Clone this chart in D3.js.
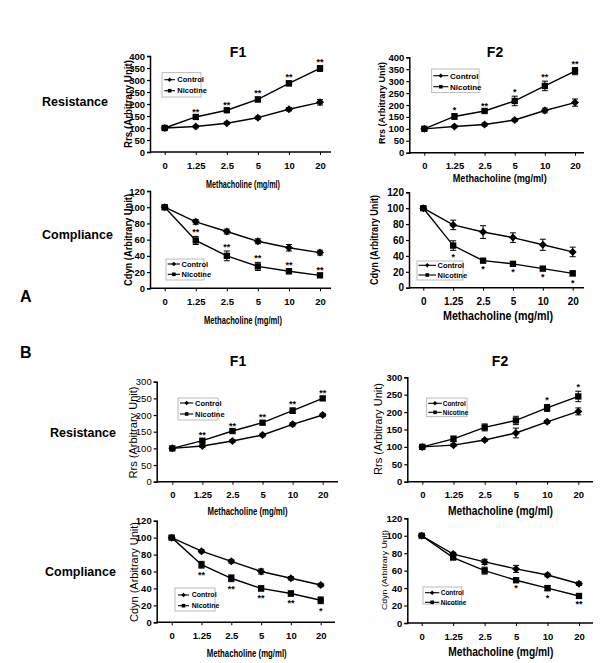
<!DOCTYPE html>
<html>
<head>
<meta charset="utf-8">
<script src="https://cdn.jsdelivr.net/npm/d3@7"></script>
<style>
  body { margin: 0; background: #fff; }
  svg { display: block; }
</style>
</head>
<body>
<svg id="fig" width="600" height="663"></svg>
<script>
// methacholine doses, same for every panel
const doses = ['0', '1.25', '2.5', '5', '10', '20'];

// A / F1
const aF1RrsControl = [100, 106, 120, 143, 178, 207];
const aF1RrsControlErr = [4, 5, 5, 6, 7, 11];
const aF1RrsNicotine = [100, 146, 174, 219, 286, 348];
const aF1RrsNicotineErr = [5, 6, 7, 10, 10, 12];
const aF1RrsStars = ['', '**', '**', '**', '**', '**'];

const aF1CdynControl = [100, 82, 70, 58, 50, 44];
const aF1CdynControlErr = [2, 3, 3, 3, 4, 3];
const aF1CdynNicotine = [100, 59, 40, 27, 21, 16];
const aF1CdynNicotineErr = [2, 5, 6, 5, 3, 2];
const aF1CdynStars = ['', '**', '**', '**', '**', '**'];

// A / F2
const aF2RrsControl = [100, 110, 118, 137, 177, 210];
const aF2RrsControlErr = [4, 5, 6, 6, 10, 15];
const aF2RrsNicotine = [100, 152, 175, 217, 280, 342];
const aF2RrsNicotineErr = [4, 12, 5, 20, 20, 15];
const aF2RrsStars = ['', '*', '**', '*', '**', '**'];

const aF2CdynControl = [100, 79, 70, 63, 54, 45];
const aF2CdynControlErr = [2, 6, 8, 6, 7, 6];
const aF2CdynNicotine = [100, 53, 34, 30, 24, 18];
const aF2CdynNicotineErr = [2, 6, 2, 2, 2, 3];
const aF2CdynStars = ['', '*', '*', '*', '*', '*'];

// B / F1
const bF1RrsControl = [100, 107, 122, 140, 172, 200];
const bF1RrsControlErr = [3, 4, 4, 5, 5, 5];
const bF1RrsNicotine = [100, 123, 152, 177, 213, 250];
const bF1RrsNicotineErr = [3, 4, 4, 4, 8, 5];
const bF1RrsStars = ['', '**', '**', '**', '**', '**'];

const bF1CdynControl = [100, 84, 72, 60, 52, 44];
const bF1CdynControlErr = [2, 2, 2, 3, 2, 2];
const bF1CdynNicotine = [100, 68, 52, 40, 34, 26];
const bF1CdynNicotineErr = [2, 4, 4, 3, 3, 4];
const bF1CdynStars = ['', '**', '**', '**', '**', '*'];

// B / F2
const bF2RrsControl = [100, 105, 120, 140, 172, 202];
const bF2RrsControlErr = [3, 4, 4, 14, 4, 10];
const bF2RrsNicotine = [100, 123, 156, 176, 212, 245];
const bF2RrsNicotineErr = [3, 8, 10, 12, 10, 15];
const bF2RrsStars = ['', '', '', '', '*', '*'];

const bF2CdynControl = [100, 79, 70, 62, 55, 45];
const bF2CdynControlErr = [1, 2, 3, 4, 2, 2];
const bF2CdynNicotine = [100, 75, 60, 49, 40, 31];
const bF2CdynNicotineErr = [1, 2, 4, 1, 3, 1];
const bF2CdynStars = ['', '', '', '*', '*', '**'];

const rrsLabel = 'Rrs (Arbitrary Unit)';
const cdynLabel = 'Cdyn (Arbitrary Unit)';
const xTitle = 'Methacholine (mg/ml)';

const narrow = "'Liberation Sans Narrow', 'Arial Narrow', sans-serif";
const arial = "'Liberation Sans', Arial, sans-serif";

// layout of the eight panels (pixel positions only)
const panels = [
  { c: aF1RrsControl, ce: aF1RrsControlErr, n: aF1RrsNicotine, ne: aF1RrsNicotineErr, stars: aF1RrsStars, starSide: 'up',
    yMax: 400, yStep: 50, yLabel: rrsLabel,
    ax: 150, top: 56, bottom: 152, x0: 164.7, x1: 320, xEnd: 331,
    tickFont: 9.5, tickBold: true, yLabX: 128, yLabY: 104, yLabLen: 88, yLabFont: 10, yLabBold: true,
    titleX: 243, titleY: 184, titleLen: 74, titleFont: 10.5,
    leg: { x: 162, y: 72.7, w: 39, h: 24.3, r1: 79.7, r2: 90.7, l0: 164.3, l1: 175, tx: 177.3, f: 7.5 } },
  { c: aF1CdynControl, ce: aF1CdynControlErr, n: aF1CdynNicotine, ne: aF1CdynNicotineErr, stars: aF1CdynStars, starSide: 'up',
    yMax: 120, yStep: 20, yLabel: cdynLabel,
    ax: 150, top: 191, bottom: 288.3, x0: 164.7, x1: 320, xEnd: 331,
    tickFont: 9.5, tickBold: true, yLabX: 128, yLabY: 240, yLabLen: 92, yLabFont: 10, yLabBold: true,
    titleX: 243, titleY: 320.7, titleLen: 78, titleFont: 10.5,
    leg: { x: 166, y: 259, w: 38, h: 21, r1: 264, r2: 274.3, l0: 167.7, l1: 180, tx: 181.5, f: 7.5 } },
  { c: aF2RrsControl, ce: aF2RrsControlErr, n: aF2RrsNicotine, ne: aF2RrsNicotineErr, stars: aF2RrsStars, starSide: 'up',
    yMax: 400, yStep: 50, yLabel: rrsLabel,
    ax: 409.3, top: 57.3, bottom: 152.7, x0: 424.3, x1: 575, xEnd: 584,
    tickFont: 9.5, tickBold: true, yLabX: 381.5, yLabY: 103, yLabLen: 82, yLabFont: 9.5, yLabBold: true,
    titleX: 499.7, titleY: 178, titleLen: 94, titleFont: 11.5,
    leg: { x: 431.7, y: 69, w: 47.3, h: 23.7, r1: 75.7, r2: 86.7, l0: 433.3, l1: 448.3, tx: 450, f: 8 } },
  { c: aF2CdynControl, ce: aF2CdynControlErr, n: aF2CdynNicotine, ne: aF2CdynNicotineErr, stars: aF2CdynStars, starSide: 'down',
    yMax: 120, yStep: 20, yLabel: cdynLabel,
    ax: 409, top: 192.3, bottom: 287.7, x0: 423.3, x1: 572.7, xEnd: 584,
    tickFont: 10, tickBold: true, yLabX: 374.5, yLabY: 240, yLabLen: 90, yLabFont: 10, yLabBold: true,
    titleX: 498, titleY: 315.7, titleLen: 110, titleFont: 12.5,
    leg: { x: 417, y: 261, w: 46, h: 19, r1: 265.3, r2: 275, l0: 418.5, l1: 436, tx: 437.5, f: 7.5 } },
  { c: bF1RrsControl, ce: bF1RrsControlErr, n: bF1RrsNicotine, ne: bF1RrsNicotineErr, stars: bF1RrsStars, starSide: 'up',
    yMax: 300, yStep: 50, yLabel: rrsLabel,
    ax: 156.7, top: 381.7, bottom: 481.7, x0: 172.3, x1: 322.7, xEnd: 338,
    tickFont: 9.5, tickBold: false, yLabX: 133.3, yLabY: 432.5, yLabLen: 92, yLabFont: 11, yLabBold: false,
    titleX: 247.5, titleY: 511.7, titleLen: 80, titleFont: 10.5,
    leg: { x: 178, y: 398, w: 40, h: 22, r1: 403, r2: 414, l0: 180, l1: 193.3, tx: 195, f: 7.5 } },
  { c: bF1CdynControl, ce: bF1CdynControlErr, n: bF1CdynNicotine, ne: bF1CdynNicotineErr, stars: bF1CdynStars, starSide: 'down',
    yMax: 120, yStep: 20, yLabel: cdynLabel,
    ax: 156.7, top: 520.7, bottom: 622.3, x0: 171.7, x1: 320.7, xEnd: 335,
    tickFont: 9.5, tickBold: true, yLabX: 134, yLabY: 572, yLabLen: 100, yLabFont: 11, yLabBold: false,
    titleX: 246.7, titleY: 653, titleLen: 80, titleFont: 10.5,
    leg: { x: 175, y: 588, w: 40, h: 23, r1: 595, r2: 605.7, l0: 178, l1: 189, tx: 191.7, f: 7 } },
  { c: bF2RrsControl, ce: bF2RrsControlErr, n: bF2RrsNicotine, ne: bF2RrsNicotineErr, stars: bF2RrsStars, starSide: 'up',
    yMax: 300, yStep: 50, yLabel: rrsLabel,
    ax: 407.3, top: 377.3, bottom: 481.7, x0: 422.3, x1: 578.3, xEnd: 593,
    tickFont: 9.5, tickBold: true, yLabX: 378, yLabY: 429, yLabLen: 92, yLabFont: 11, yLabBold: false,
    titleX: 500.5, titleY: 511, titleLen: 105, titleFont: 12,
    leg: { x: 426.7, y: 398, w: 40.3, h: 18.7, r1: 403.3, r2: 412.3, l0: 428.3, l1: 441.7, tx: 442.7, f: 6.5 } },
  { c: bF2CdynControl, ce: bF2CdynControlErr, n: bF2CdynNicotine, ne: bF2CdynNicotineErr, stars: bF2CdynStars, starSide: 'down',
    yMax: 120, yStep: 20, yLabel: cdynLabel,
    ax: 407.3, top: 518.3, bottom: 623, x0: 421.7, x1: 579, xEnd: 593,
    tickFont: 9.5, tickBold: true, yLabX: 384, yLabY: 570, yLabLen: 80, yLabFont: 8, yLabBold: false,
    titleX: 500.8, titleY: 651.7, titleLen: 105, titleFont: 12,
    leg: { x: 423, y: 587, w: 38.7, h: 17, r1: 592.7, r2: 602.3, l0: 425, l1: 439.3, tx: 440.7, f: 6.5 } }
];

const svg = d3.select('#fig');

const diamond = d3.symbol().type(d3.symbolSquare);
const square = d3.symbol().type(d3.symbolSquare);

panels.forEach(function (p) {
  const g = svg.append('g');
  const x = d3.scalePoint().domain(doses).range([p.x0, p.x1]);
  const y = d3.scaleLinear().domain([0, p.yMax]).range([p.bottom, p.top]);

  // y axis
  const yAxis = d3.axisLeft(y)
    .tickValues(d3.range(0, p.yMax + 1, p.yStep))
    .tickSize(3).tickPadding(2);
  const ya = g.append('g')
    .attr('transform', 'translate(' + p.ax + ',0)')
    .call(yAxis);
  ya.select('.domain').attr('stroke-width', 1.5);
  ya.selectAll('.tick line').attr('stroke-width', 1.2);
  ya.selectAll('text')
    .attr('font-family', narrow)
    .attr('font-size', p.tickFont)
    .attr('font-weight', p.tickBold ? 'bold' : 'normal')
    .attr('fill', '#000');

  // x axis
  const xAxis = d3.axisBottom(x).tickSize(3).tickPadding(7);
  const xa = g.append('g')
    .attr('transform', 'translate(0,' + p.bottom + ')')
    .call(xAxis);
  xa.select('.domain').remove();
  xa.append('line')
    .attr('x1', p.ax).attr('x2', p.xEnd)
    .attr('stroke', '#000').attr('stroke-width', 1.5);
  xa.selectAll('.tick line').attr('stroke-width', 1);
  xa.selectAll('text')
    .attr('font-family', narrow)
    .attr('font-size', p.tickFont)
    .attr('font-weight', 'bold')
    .attr('fill', '#000');

  // axis titles
  g.append('text')
    .attr('x', p.titleX).attr('y', p.titleY)
    .attr('dy', '0.35em')
    .attr('text-anchor', 'middle')
    .attr('font-family', narrow)
    .attr('font-weight', 'bold')
    .attr('font-size', p.titleFont)
    .attr('textLength', p.titleLen)
    .attr('lengthAdjust', 'spacingAndGlyphs')
    .text(xTitle);

  g.append('text')
    .attr('transform', 'translate(' + p.yLabX + ',' + p.yLabY + ') rotate(-90)')
    .attr('dy', '0.35em')
    .attr('text-anchor', 'middle')
    .attr('font-family', arial)
    .attr('font-weight', p.yLabBold ? 'bold' : 'normal')
    .attr('font-size', p.yLabFont)
    .attr('textLength', p.yLabLen)
    .attr('lengthAdjust', 'spacingAndGlyphs')
    .text(p.yLabel);

  const series = [
    { v: p.c, e: p.ce, sym: diamond.size(32), rot: 45 },
    { v: p.n, e: p.ne, sym: square.size(40), rot: 0 }
  ];

  const line = d3.line()
    .x(function (d, i) { return x(doses[i]); })
    .y(function (d) { return y(d); });

  series.forEach(function (s) {
    g.append('path')
      .attr('d', line(s.v))
      .attr('fill', 'none')
      .attr('stroke', '#000')
      .attr('stroke-width', 1.4);

    // error bars
    const eb = g.append('g').selectAll('g')
      .data(s.v).enter().append('g');
    eb.append('line')
      .attr('x1', function (d, i) { return x(doses[i]); })
      .attr('x2', function (d, i) { return x(doses[i]); })
      .attr('y1', function (d, i) { return y(d - s.e[i]); })
      .attr('y2', function (d, i) { return y(d + s.e[i]); })
      .attr('stroke', '#000').attr('stroke-width', 1);
    [-1, 1].forEach(function (k) {
      eb.append('line')
        .attr('x1', function (d, i) { return x(doses[i]) - 3; })
        .attr('x2', function (d, i) { return x(doses[i]) + 3; })
        .attr('y1', function (d, i) { return y(d + k * s.e[i]); })
        .attr('y2', function (d, i) { return y(d + k * s.e[i]); })
        .attr('stroke', '#000').attr('stroke-width', 1);
    });

    g.append('g').selectAll('path')
      .data(s.v).enter().append('path')
      .attr('d', s.sym())
      .attr('transform', function (d, i) {
        return 'translate(' + x(doses[i]) + ',' + y(d) + ') rotate(' + s.rot + ')';
      })
      .attr('fill', '#000');
  });

  // significance stars on the nicotine series
  g.append('g').selectAll('text')
    .data(p.stars).enter().append('text')
    .attr('x', function (d, i) { return x(doses[i]); })
    .attr('y', function (d, i) {
      if (p.starSide === 'up') return y(p.n[i] + p.ne[i]) - 1;
      return y(p.n[i] - p.ne[i]) + 10;
    })
    .attr('text-anchor', 'middle')
    .attr('font-family', arial)
    .attr('font-weight', 'bold')
    .attr('font-size', 9)
    .text(function (d) { return d; });

  // legend
  const L = p.leg;
  const lg = g.append('g');
  lg.append('rect')
    .attr('x', L.x).attr('y', L.y).attr('width', L.w).attr('height', L.h)
    .attr('fill', '#fff').attr('stroke', '#aaa').attr('stroke-width', 0.8);
  [['Control', L.r1, diamond.size(10), 45], ['Nicotine', L.r2, square.size(13), 0]].forEach(function (r) {
    lg.append('line')
      .attr('x1', L.l0).attr('x2', L.l1).attr('y1', r[1]).attr('y2', r[1])
      .attr('stroke', '#000').attr('stroke-width', 1.1);
    lg.append('path')
      .attr('d', r[2]())
      .attr('transform', 'translate(' + ((L.l0 + L.l1) / 2) + ',' + r[1] + ') rotate(' + r[3] + ')')
      .attr('fill', '#000');
    lg.append('text')
      .attr('x', L.tx).attr('y', r[1]).attr('dy', '0.35em')
      .attr('font-family', narrow).attr('font-weight', 'bold')
      .attr('font-size', L.f)
      .text(r[0]);
  });
});

// figure labels
const labels = [
  { t: 'F1', x: 238, y: 52, s: 14, a: 'middle' },
  { t: 'F2', x: 495, y: 52, s: 14, a: 'middle' },
  { t: 'F1', x: 238, y: 361, s: 14, a: 'middle' },
  { t: 'F2', x: 500, y: 361, s: 14, a: 'middle' },
  { t: 'Resistance', x: 42, y: 102, s: 12.5, a: 'start' },
  { t: 'Compliance', x: 42, y: 235, s: 12.5, a: 'start' },
  { t: 'Resistance', x: 50, y: 433, s: 12.5, a: 'start' },
  { t: 'Compliance', x: 45, y: 572, s: 12.5, a: 'start' },
  { t: 'A', x: 20, y: 296, s: 16, a: 'start' },
  { t: 'B', x: 20, y: 352, s: 16, a: 'start' }
];
svg.append('g').selectAll('text')
  .data(labels).enter().append('text')
  .attr('x', function (d) { return d.x; })
  .attr('y', function (d) { return d.y; })
  .attr('dy', '0.35em')
  .attr('text-anchor', function (d) { return d.a; })
  .attr('font-family', arial)
  .attr('font-weight', 'bold')
  .attr('font-size', function (d) { return d.s; })
  .text(function (d) { return d.t; });
</script>
</body>
</html>
